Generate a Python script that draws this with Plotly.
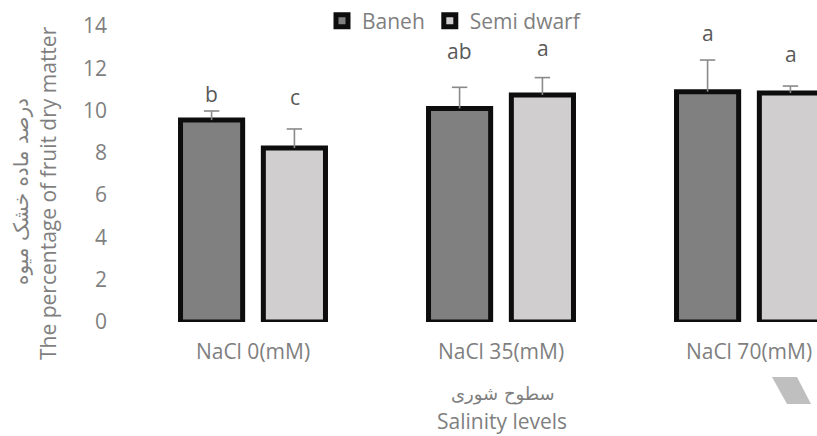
import plotly.graph_objects as go

categories = ["NaCl 0(mM)", "NaCl 35(mM)", "NaCl 70(mM)"]
baneh = [9.55, 10.1, 10.89]
baneh_err = [0.43, 1.0, 1.5]
semi = [8.23, 10.74, 10.83]
semi_err = [0.9, 0.82, 0.33]
baneh_letters = ["b", "ab", "a"]
semi_letters = ["c", "a", "a"]
y_ticks = [0, 2, 4, 6, 8, 10, 12, 14]

# style
ML, MR, MT, MB = 110, 0, 26, 114
W, H = 817, 436
PW = W - ML - MR
PH = H - MT - MB
FONT = "Open Sans, DejaVu Sans, sans-serif"
GREY = "#7f7f7f"
DARK = "#595959"
ERR = "#8a8a8a"
baneh_shift = [17, 36, 27]
semi_shift = [32, 30, 32]
BAR_OFF_PX = 41.5
BARGAP = 0.332

fig = go.Figure()
fig.add_trace(go.Bar(
    name="Baneh", x=categories, y=baneh,
    marker=dict(color="#808080", line=dict(color="#0d0d0d", width=5)),
    error_y=dict(type="data", array=baneh_err, arrayminus=[0] * len(baneh_err),
                 symmetric=False, color=ERR, thickness=1.6, width=0),
))
fig.add_trace(go.Bar(
    name="Semi dwarf", x=categories, y=semi,
    marker=dict(color="#d0cece", line=dict(color="#0d0d0d", width=5)),
    error_y=dict(type="data", array=semi_err, arrayminus=[0] * len(semi_err),
                 symmetric=False, color=ERR, thickness=1.6, width=0),
))
# error-bar caps (top only)
for vals, errs in ((baneh, baneh_err), (semi, semi_err)):
    fig.add_trace(go.Scatter(
        x=categories, y=[v + e for v, e in zip(vals, errs)], mode="markers",
        marker=dict(symbol="line-ew", size=11, line=dict(color=ERR, width=1.6)),
        showlegend=False, hoverinfo="skip",
    ))

annotations = []
for i, c in enumerate(categories):
    annotations.append(dict(x=c, y=baneh[i] + baneh_err[i], xref="x", yref="y",
                            text=baneh_letters[i], showarrow=False, yanchor="middle",
                            xshift=-BAR_OFF_PX, yshift=baneh_shift[i], height=24,
                            font=dict(family=FONT, size=21, color=DARK)))
    annotations.append(dict(x=c, y=semi[i] + semi_err[i], xref="x", yref="y",
                            text=semi_letters[i], showarrow=False, yanchor="middle",
                            xshift=BAR_OFF_PX, yshift=semi_shift[i], height=24,
                            font=dict(family=FONT, size=21, color=DARK)))

def px_x(p):
    return (p - ML) / PW

def px_y(p):
    return (H - MB - p) / PH

# y-axis titles
annotations.append(dict(x=px_x(48), y=px_y(193), xref="paper", yref="paper",
                        text="The percentage of fruit dry matter", textangle=-90,
                        showarrow=False, xanchor="center", yanchor="middle",
                        font=dict(family=FONT, size=21, color=GREY)))
annotations.append(dict(x=px_x(21), y=px_y(192), xref="paper", yref="paper",
                        text="درصد ماده خشک میوه", textangle=-90,
                        showarrow=False, xanchor="center", yanchor="middle",
                        font=dict(family="DejaVu Sans, sans-serif", size=20, color=GREY)))
# x-axis titles
annotations.append(dict(x=px_x(503), y=px_y(394), xref="paper", yref="paper",
                        text="سطوح شوری", showarrow=False, xanchor="center", yanchor="middle",
                        font=dict(family="DejaVu Sans, sans-serif", size=18, color=GREY)))
annotations.append(dict(x=px_x(502), y=px_y(421), xref="paper", yref="paper",
                        text="Salinity levels", showarrow=False, xanchor="center", yanchor="middle",
                        height=26,
                        font=dict(family=FONT, size=21, color=GREY)))

shapes = [dict(type="path", xref="paper", yref="paper",
               path="M {},{} L {},{} L {},{} L {},{} Z".format(
                   px_x(772), px_y(377), px_x(797), px_y(377),
                   px_x(811), px_y(404), px_x(787), px_y(404)),
               fillcolor="#bfbfbf", line=dict(width=0), layer="above")]

cat_px = 248.0
x0 = (ML - 253) / cat_px
x1 = x0 + PW / cat_px

fig.update_layout(
    width=W, height=H,
    margin=dict(l=ML, r=MR, t=MT, b=MB, pad=0),
    paper_bgcolor="white", plot_bgcolor="white",
    barmode="group", bargap=BARGAP, bargroupgap=0.25,
    scattermode="group", scattergap=BARGAP,
    font=dict(family=FONT, size=21, color=GREY),
    showlegend=True,
    legend=dict(orientation="h", x=px_x(322), y=px_y(21), xanchor="left", yanchor="middle",
                font=dict(family=FONT, size=21, color=GREY), itemwidth=30,
                bgcolor="rgba(0,0,0,0)", tracegroupgap=0),
    xaxis=dict(type="category", range=[x0, x1], showgrid=False, showline=False,
               zeroline=False, ticks="", tickfont=dict(family=FONT, size=21, color=GREY),
               ticklabelstandoff=15),
    yaxis=dict(range=[0, 14], tickvals=y_ticks, showgrid=False, showline=False,
               zeroline=False, ticks="", tickfont=dict(family=FONT, size=21, color=GREY),
               ticklabelstandoff=2),
    annotations=annotations,
    shapes=shapes,
)

fig.write_html("out.html", config={"displayModeBar": False},
               post_script="document.body.style.margin='0';")
